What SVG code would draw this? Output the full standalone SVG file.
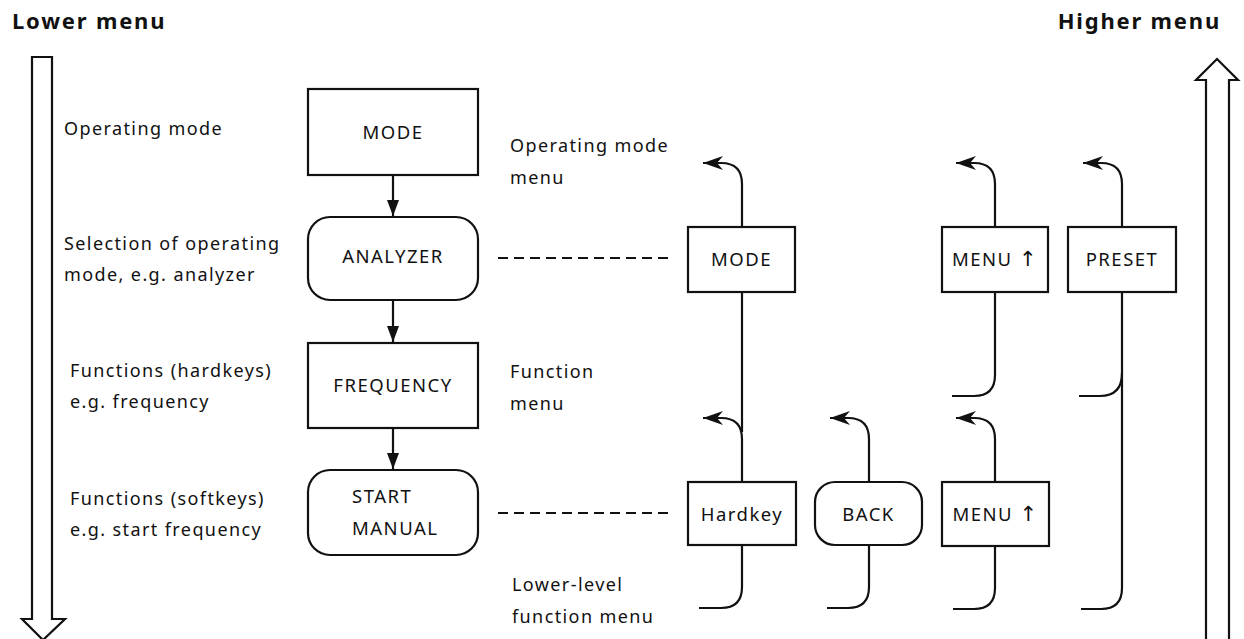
<svg xmlns="http://www.w3.org/2000/svg" width="1244" height="639" viewBox="0 0 1244 639">
<style>
text{font-family:"Noto Sans","Open Sans",sans-serif;fill:#111;}
.h{font-size:22px;font-weight:bold;letter-spacing:1.8px;}
.l{font-size:18px;letter-spacing:1.4px;}
.b{font-size:18.5px;letter-spacing:1.5px;text-anchor:middle;}
.ar{font-family:"DejaVu Sans",sans-serif;font-size:21px;font-weight:normal;}
.box{fill:#fff;stroke:#111;stroke-width:2.2;}
.ln{fill:none;stroke:#111;stroke-width:2.2;}
.dash{fill:none;stroke:#111;stroke-width:2.2;stroke-dasharray:10 6;}
</style>
<defs>
<marker id="curl" markerUnits="userSpaceOnUse" markerWidth="24" markerHeight="16" viewBox="-22 -8 24 16" refX="0" refY="0" orient="auto">
<path d="M0,0 L-20,-7 L-14,0 L-20,7 Z" fill="#111"/>
</marker>
<marker id="tri" markerUnits="userSpaceOnUse" markerWidth="18" markerHeight="14" viewBox="-17 -7 18 14" refX="0" refY="0" orient="auto">
<path d="M0,0 L-16,-6 L-16,6 Z" fill="#111"/>
</marker>
</defs>

<g id="headings">
<text class="h" x="12" y="29">Lower menu</text>
<text class="h" x="1221" y="29" text-anchor="end">Higher menu</text>
</g>
<g id="big-arrows">
<path class="ln" d="M32,57 H52 V619 H65 L43,640 L22,619 H32 Z"/>
<path class="ln" d="M1206,645 V80 H1196 L1217,59 L1238,80 H1229 V645"/>
</g>

<g id="left-labels">
<text class="l" x="64" y="135">Operating mode</text>
<text class="l" x="64" y="250">Selection of operating</text>
<text class="l" x="64" y="281">mode, e.g. analyzer</text>
<text class="l" x="70" y="377">Functions (hardkeys)</text>
<text class="l" x="70" y="408">e.g. frequency</text>
<text class="l" x="70" y="505">Functions (softkeys)</text>
<text class="l" x="70" y="536">e.g. start frequency</text>
</g>

<g id="connectors">
<line class="ln" x1="393" y1="175" x2="393" y2="216" marker-end="url(#tri)"/>
<line class="ln" x1="393" y1="300" x2="393" y2="342" marker-end="url(#tri)"/>
<line class="ln" x1="393" y1="428" x2="393" y2="469" marker-end="url(#tri)"/>
<line class="dash" x1="498" y1="258" x2="668" y2="258"/>
<line class="dash" x1="498" y1="513" x2="668" y2="513"/>
<path class="ln" d="M742,227 V184 Q742,163 721,163 H703" marker-end="url(#curl)"/>
<path class="ln" d="M742,292 V432"/>
<path class="ln" d="M995,227 V184 Q995,163 974,163 H956" marker-end="url(#curl)"/>
<path class="ln" d="M995,292 V375 Q995,396 974,396 H952"/>
<path class="ln" d="M1122,227 V184 Q1122,163 1101,163 H1083" marker-end="url(#curl)"/>
<path class="ln" d="M1122,292 V588 Q1122,609 1101,609 H1081"/>
<path class="ln" d="M1122,373 Q1122,396 1100,396 H1079"/>
<path class="ln" d="M742,482 V439 Q742,418 721,418 H703" marker-end="url(#curl)"/>
<path class="ln" d="M742,545 V587 Q742,608 721,608 H699"/>
<path class="ln" d="M869,482 V439 Q869,418 848,418 H830" marker-end="url(#curl)"/>
<path class="ln" d="M869,545 V587 Q869,608 848,608 H827"/>
<path class="ln" d="M995,482 V439 Q995,418 974,418 H956" marker-end="url(#curl)"/>
<path class="ln" d="M995,546 V588 Q995,609 974,609 H953"/>
</g>

<g id="n-mode">
<rect class="box" x="308" y="89" width="170" height="86"/>
<text class="b" x="393" y="139">MODE</text>
</g>
<g id="n-analyzer">
<rect class="box" x="308" y="217" width="170" height="83" rx="22"/>
<text class="b" x="393" y="263">ANALYZER</text>
</g>
<g id="n-frequency">
<rect class="box" x="308" y="343" width="170" height="85"/>
<text class="b" x="393" y="392">FREQUENCY</text>
</g>
<g id="n-start">
<rect class="box" x="308" y="470" width="170" height="85" rx="22"/>
<text class="l" x="352" y="503" style="font-size:18.5px;letter-spacing:1.5px">START</text>
<text class="l" x="352" y="535" style="font-size:18.5px;letter-spacing:1.5px">MANUAL</text>
</g>

<g id="right-labels">
<text class="l" x="510" y="152">Operating mode</text>
<text class="l" x="510" y="184">menu</text>
<text class="l" x="510" y="378">Function</text>
<text class="l" x="510" y="410">menu</text>
<text class="l" x="512" y="591">Lower-level</text>
<text class="l" x="512" y="623">function menu</text>
</g>

<g id="n-mode2">
<rect class="box" x="688" y="227" width="107" height="65"/>
<text class="b" x="741.5" y="266">MODE</text>
</g>
<g id="n-menu-up1">
<rect class="box" x="942" y="227" width="106" height="65"/>
<text class="b" x="995" y="266">MENU <tspan class="ar">↑</tspan></text>
</g>
<g id="n-preset">
<rect class="box" x="1068" y="227" width="108" height="65"/>
<text class="b" x="1122" y="266">PRESET</text>
</g>
<g id="n-hardkey">
<rect class="box" x="688" y="482" width="108" height="63"/>
<text class="b" x="742" y="521">Hardkey</text>
</g>
<g id="n-back">
<rect class="box" x="815" y="482" width="107" height="63" rx="20"/>
<text class="b" x="868.5" y="521">BACK</text>
</g>
<g id="n-menu-up2">
<rect class="box" x="942" y="482" width="107" height="64"/>
<text class="b" x="995.5" y="521">MENU <tspan class="ar">↑</tspan></text>
</g>
</svg>
